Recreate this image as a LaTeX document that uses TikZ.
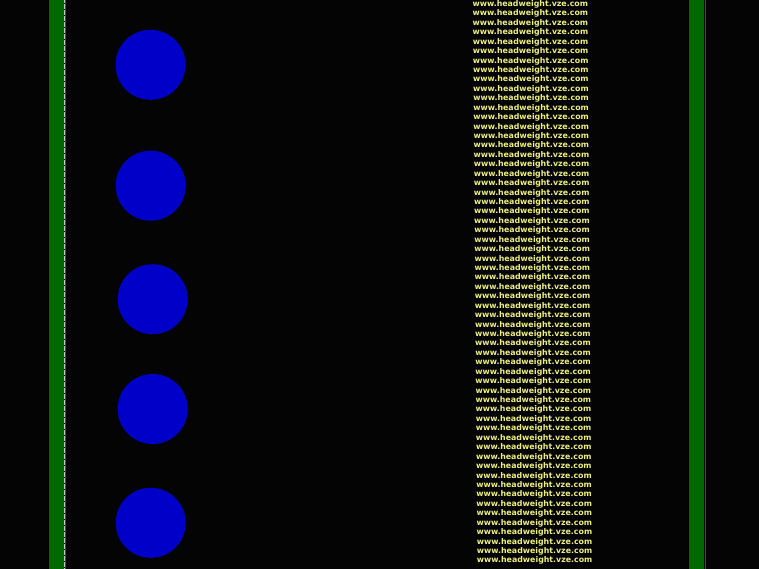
\documentclass[tikz,border=0pt]{standalone}
\usepackage{fontspec}
\newfontfamily\urlfont{DejaVu Sans}[BoldFont={DejaVu Sans Bold}]
\definecolor{bgblack}{RGB}{4,4,4}
\definecolor{bargreen}{RGB}{0,104,0}
\definecolor{dotblue}{RGB}{0,0,200}
\definecolor{urlyellow}{RGB}{238,238,130}
\definecolor{edgered}{RGB}{235,0,0}
\tikzset{
  sidebar/.style={fill=bargreen, draw=none},
  edgeline/.style={draw=edgered, line width=1.1bp},
  seamline/.style={draw=gray!45, line width=0.5bp, dash pattern=on 0.6bp off 0.6bp},
  dot/.style={circle, fill=dotblue, draw=none, minimum size=70bp, inner sep=0pt},
  urltext/.style={anchor=base west, inner sep=0pt, text=urlyellow,
    font=\urlfont\bfseries\fontsize{7.85bp}{9bp}\selectfont}
}
\begin{document}
\begin{tikzpicture}[x=1bp, y=-1bp]
\useasboundingbox (0,0) rectangle (759,569);
\fill[bgblack] (0,0) rectangle (759,569);
% side bars
\path[sidebar] (49,0) rectangle (63.5,569);
\path[sidebar] (689,0) rectangle (704,569);
\draw[seamline] (63.9,0) -- (63.9,569);
\draw[edgeline] (65.5,0) -- (65.5,569);
\draw[edgeline] (705.6,0) -- (705.6,569);
% circles
\node[dot] (c1) at (150.5,64.8) {};
\node[dot] (c2) at (150.7,185.7) {};
\node[dot] (c3) at (152.7,299.2) {};
\node[dot] (c4) at (152.7,409) {};
\node[dot] (c5) at (150.7,522.8) {};
% repeated url text
\foreach \i in {0,...,59}{
  \node[urltext] (u\i) at ({472.3+4.4*\i/59},{6.5+9.43*\i}) {www.headweight.vze.com};
}
\end{tikzpicture}
\end{document}
